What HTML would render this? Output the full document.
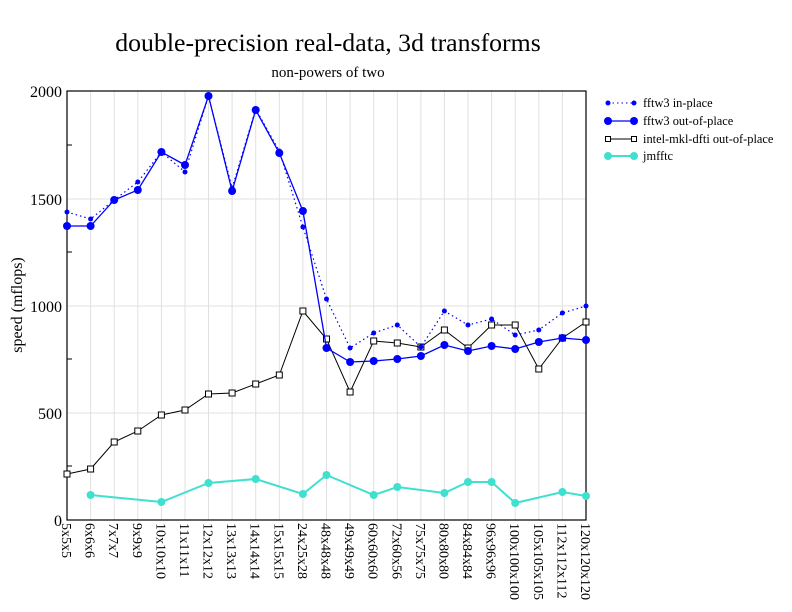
<!DOCTYPE html>
<html><head><meta charset="utf-8"><style>body{margin:0;background:#fff}svg{display:block}</style></head>
<body>
<svg width="792" height="612" viewBox="0 0 792 612" xmlns="http://www.w3.org/2000/svg" font-family="Liberation Serif, serif">
<rect width="792" height="612" fill="#fff"/>
<text x="328" y="51" font-size="25.8" text-anchor="middle">double-precision real-data, 3d transforms</text>
<text x="328" y="77" font-size="15" text-anchor="middle">non-powers of two</text>
<g stroke="#e0e0e0" stroke-width="1">
<line x1="90.6" y1="91" x2="90.6" y2="520"/><line x1="114.2" y1="91" x2="114.2" y2="520"/><line x1="137.8" y1="91" x2="137.8" y2="520"/><line x1="161.4" y1="91" x2="161.4" y2="520"/><line x1="185" y1="91" x2="185" y2="520"/><line x1="208.5" y1="91" x2="208.5" y2="520"/><line x1="232.1" y1="91" x2="232.1" y2="520"/><line x1="255.7" y1="91" x2="255.7" y2="520"/><line x1="279.3" y1="91" x2="279.3" y2="520"/><line x1="302.9" y1="91" x2="302.9" y2="520"/><line x1="326.5" y1="91" x2="326.5" y2="520"/><line x1="350.1" y1="91" x2="350.1" y2="520"/><line x1="373.7" y1="91" x2="373.7" y2="520"/><line x1="397.3" y1="91" x2="397.3" y2="520"/><line x1="420.9" y1="91" x2="420.9" y2="520"/><line x1="444.4" y1="91" x2="444.4" y2="520"/><line x1="468" y1="91" x2="468" y2="520"/><line x1="491.6" y1="91" x2="491.6" y2="520"/><line x1="515.2" y1="91" x2="515.2" y2="520"/><line x1="538.8" y1="91" x2="538.8" y2="520"/><line x1="562.4" y1="91" x2="562.4" y2="520"/>
<line x1="67" y1="413" x2="586" y2="413"/><line x1="67" y1="306" x2="586" y2="306"/><line x1="67" y1="199" x2="586" y2="199"/>
</g>
<g stroke="#000" stroke-width="1">
<line x1="67" y1="466" x2="72" y2="466"/><line x1="67" y1="359" x2="72" y2="359"/><line x1="67" y1="252" x2="72" y2="252"/><line x1="67" y1="145" x2="72" y2="145"/>
</g>
<rect x="67" y="91" width="519" height="429" fill="none" stroke="#000" stroke-width="1.2"/>
<g font-size="16" text-anchor="end">
<text x="62" y="526">0</text><text x="62" y="419">500</text><text x="62" y="312">1000</text><text x="62" y="205">1500</text><text x="62" y="97">2000</text>
</g>
<text transform="translate(22,305) rotate(-90)" font-size="16" text-anchor="middle">speed (mflops)</text>
<g font-size="14">
<text transform="translate(62,523) rotate(90)">5x5x5</text>
<text transform="translate(85.6,523) rotate(90)">6x6x6</text>
<text transform="translate(109.2,523) rotate(90)">7x7x7</text>
<text transform="translate(132.8,523) rotate(90)">9x9x9</text>
<text transform="translate(156.4,523) rotate(90)">10x10x10</text>
<text transform="translate(180,523) rotate(90)">11x11x11</text>
<text transform="translate(203.5,523) rotate(90)">12x12x12</text>
<text transform="translate(227.1,523) rotate(90)">13x13x13</text>
<text transform="translate(250.7,523) rotate(90)">14x14x14</text>
<text transform="translate(274.3,523) rotate(90)">15x15x15</text>
<text transform="translate(297.9,523) rotate(90)">24x25x28</text>
<text transform="translate(321.5,523) rotate(90)">48x48x48</text>
<text transform="translate(345.1,523) rotate(90)">49x49x49</text>
<text transform="translate(368.7,523) rotate(90)">60x60x60</text>
<text transform="translate(392.3,523) rotate(90)">72x60x56</text>
<text transform="translate(415.9,523) rotate(90)">75x75x75</text>
<text transform="translate(439.4,523) rotate(90)">80x80x80</text>
<text transform="translate(463,523) rotate(90)">84x84x84</text>
<text transform="translate(486.6,523) rotate(90)">96x96x96</text>
<text transform="translate(510.2,523) rotate(90)">100x100x100</text>
<text transform="translate(533.8,523) rotate(90)">105x105x105</text>
<text transform="translate(557.4,523) rotate(90)">112x112x112</text>
<text transform="translate(581,523) rotate(90)">120x120x120</text>
</g>
<g stroke="#40e0d0" fill="#40e0d0">
<polyline fill="none" stroke-width="2" points="90.6,495 161.4,502 208.5,483 255.7,479 302.9,494 326.5,475 373.7,495 397.3,487 444.4,493 468,482 491.6,482 515.2,503 562.4,492 586,496"/>
<g stroke="none"><circle cx="90.6" cy="495" r="4"/><circle cx="161.4" cy="502" r="4"/><circle cx="208.5" cy="483" r="4"/><circle cx="255.7" cy="479" r="4"/><circle cx="302.9" cy="494" r="4"/><circle cx="326.5" cy="475" r="4"/><circle cx="373.7" cy="495" r="4"/><circle cx="397.3" cy="487" r="4"/><circle cx="444.4" cy="493" r="4"/><circle cx="468" cy="482" r="4"/><circle cx="491.6" cy="482" r="4"/><circle cx="515.2" cy="503" r="4"/><circle cx="562.4" cy="492" r="4"/><circle cx="586" cy="496" r="4"/></g>
</g>
<polyline fill="none" stroke="#000" stroke-width="1" points="67,474 90.6,469 114.2,442 137.8,431 161.4,415 185,410 208.5,394 232.1,393 255.7,384 279.3,375 302.9,311 326.5,339 350.1,392 373.7,341 397.3,343 420.9,347 444.4,330 468,348 491.6,325 515.2,325 538.8,369 562.4,338 586,322"/>
<g fill="#fff" stroke="#000" stroke-width="1">
<rect x="64" y="471" width="6" height="6"/><rect x="87.6" y="466" width="6" height="6"/><rect x="111.2" y="439" width="6" height="6"/><rect x="134.8" y="428" width="6" height="6"/><rect x="158.4" y="412" width="6" height="6"/><rect x="182" y="407" width="6" height="6"/><rect x="205.5" y="391" width="6" height="6"/><rect x="229.1" y="390" width="6" height="6"/><rect x="252.7" y="381" width="6" height="6"/><rect x="276.3" y="372" width="6" height="6"/><rect x="299.9" y="308" width="6" height="6"/><rect x="323.5" y="336" width="6" height="6"/><rect x="347.1" y="389" width="6" height="6"/><rect x="370.7" y="338" width="6" height="6"/><rect x="394.3" y="340" width="6" height="6"/><rect x="417.9" y="344" width="6" height="6"/><rect x="441.4" y="327" width="6" height="6"/><rect x="465" y="345" width="6" height="6"/><rect x="488.6" y="322" width="6" height="6"/><rect x="512.2" y="322" width="6" height="6"/><rect x="535.8" y="366" width="6" height="6"/><rect x="559.4" y="335" width="6" height="6"/><rect x="583" y="319" width="6" height="6"/>
</g>
<g fill="#0000ff">
<polyline fill="none" stroke="#0000ff" stroke-width="1.3" points="67,226 90.6,226 114.2,200 137.8,190 161.4,152 185,165 208.5,96 232.1,191 255.7,110 279.3,153 302.9,211 326.5,348 350.1,362 373.7,361 397.3,359 420.9,356 444.4,345 468,351 491.6,346 515.2,349 538.8,342 562.4,338 586,340"/>
<circle cx="67" cy="226" r="4"/><circle cx="90.6" cy="226" r="4"/><circle cx="114.2" cy="200" r="4"/><circle cx="137.8" cy="190" r="4"/><circle cx="161.4" cy="152" r="4"/><circle cx="185" cy="165" r="4"/><circle cx="208.5" cy="96" r="4"/><circle cx="232.1" cy="191" r="4"/><circle cx="255.7" cy="110" r="4"/><circle cx="279.3" cy="153" r="4"/><circle cx="302.9" cy="211" r="4"/><circle cx="326.5" cy="348" r="4"/><circle cx="350.1" cy="362" r="4"/><circle cx="373.7" cy="361" r="4"/><circle cx="397.3" cy="359" r="4"/><circle cx="420.9" cy="356" r="4"/><circle cx="444.4" cy="345" r="4"/><circle cx="468" cy="351" r="4"/><circle cx="491.6" cy="346" r="4"/><circle cx="515.2" cy="349" r="4"/><circle cx="538.8" cy="342" r="4"/><circle cx="562.4" cy="338" r="4"/><circle cx="586" cy="340" r="4"/>
</g>
<g fill="#0000ff">
<polyline fill="none" stroke="#0000ff" stroke-width="1.2" stroke-dasharray="1.5,3" points="67,212 90.6,219 114.2,200 137.8,182 161.4,152 185,172 208.5,96 232.1,188 255.7,109 279.3,151 302.9,227 326.5,299 350.1,348 373.7,333 397.3,325 420.9,347 444.4,311 468,325 491.6,319 515.2,335 538.8,330 562.4,313 586,306"/>
<circle cx="67" cy="212" r="2.5"/><circle cx="90.6" cy="219" r="2.5"/><circle cx="114.2" cy="200" r="2.5"/><circle cx="137.8" cy="182" r="2.5"/><circle cx="161.4" cy="152" r="2.5"/><circle cx="185" cy="172" r="2.5"/><circle cx="208.5" cy="96" r="2.5"/><circle cx="232.1" cy="188" r="2.5"/><circle cx="255.7" cy="109" r="2.5"/><circle cx="279.3" cy="151" r="2.5"/><circle cx="302.9" cy="227" r="2.5"/><circle cx="326.5" cy="299" r="2.5"/><circle cx="350.1" cy="348" r="2.5"/><circle cx="373.7" cy="333" r="2.5"/><circle cx="397.3" cy="325" r="2.5"/><circle cx="420.9" cy="347" r="2.5"/><circle cx="444.4" cy="311" r="2.5"/><circle cx="468" cy="325" r="2.5"/><circle cx="491.6" cy="319" r="2.5"/><circle cx="515.2" cy="335" r="2.5"/><circle cx="538.8" cy="330" r="2.5"/><circle cx="562.4" cy="313" r="2.5"/><circle cx="586" cy="306" r="2.5"/>
</g>
<g font-size="12.4">
<line x1="608" y1="103" x2="634" y2="103" stroke="#0000ff" stroke-dasharray="1.5,3"/>
<circle cx="608" cy="103" r="2.5" fill="#0000ff"/><circle cx="634" cy="103" r="2.5" fill="#0000ff"/>
<text x="643" y="107">fftw3 in-place</text>
<line x1="608" y1="121" x2="634" y2="121" stroke="#0000ff" stroke-width="1.3"/>
<circle cx="608" cy="121" r="4" fill="#0000ff"/><circle cx="634" cy="121" r="4" fill="#0000ff"/>
<text x="643" y="125">fftw3 out-of-place</text>
<line x1="608" y1="139" x2="634" y2="139" stroke="#000"/>
<rect x="605.5" y="136.5" width="5" height="5" fill="#fff" stroke="#000"/><rect x="631.5" y="136.5" width="5" height="5" fill="#fff" stroke="#000"/>
<text x="643" y="143">intel-mkl-dfti out-of-place</text>
<line x1="608" y1="156" x2="634" y2="156" stroke="#40e0d0" stroke-width="2"/>
<circle cx="608" cy="156" r="4" fill="#40e0d0"/><circle cx="634" cy="156" r="4" fill="#40e0d0"/>
<text x="643" y="160">jmfftc</text>
</g>
</svg>
</body></html>
